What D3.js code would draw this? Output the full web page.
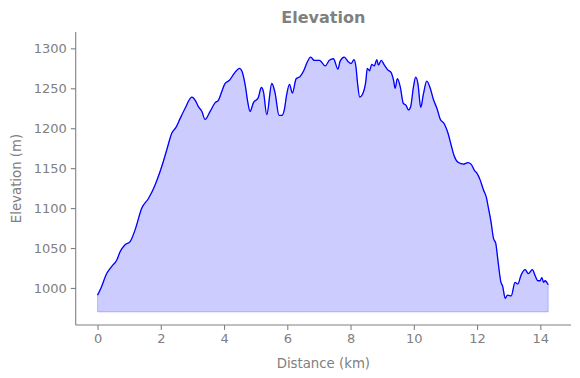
<!DOCTYPE html>
<html>
<head>
<meta charset="utf-8">
<script src="https://cdn.jsdelivr.net/npm/d3@7"></script>
<style>
  html, body { margin: 0; padding: 0; background: #fff; }
  svg { display: block; font-family: "DejaVu Sans", sans-serif; }
</style>
</head>
<body>
<svg id="chart" width="580" height="378"></svg>
<script>
// ---- data ----
const distKm = [0, 0.11, 0.29, 0.45, 0.61, 0.71, 0.87, 1.03, 1.19, 1.40, 1.61, 1.82, 2.03, 2.19, 2.35, 2.48, 2.61, 2.77, 2.98,
  3.09, 3.19, 3.30, 3.40, 3.56, 3.72, 3.82, 3.93, 4.03, 4.17, 4.33, 4.49, 4.56, 4.67, 4.75, 4.82, 4.93, 5.08, 5.18, 5.25,
  5.35, 5.51, 5.61, 5.74, 5.83, 5.91, 5.98, 6.07, 6.16, 6.28, 6.41, 6.53, 6.62, 6.74, 6.85, 7.02, 7.20, 7.33, 7.46, 7.60,
  7.67, 7.80, 7.93, 8.02, 8.11, 8.17, 8.22, 8.29, 8.37, 8.48, 8.53, 8.60, 8.67, 8.75, 8.83, 8.88, 8.97, 9.07, 9.18, 9.28,
  9.36, 9.41, 9.48, 9.57, 9.67, 9.75, 9.83, 9.90, 9.99, 10.06, 10.13, 10.22, 10.30, 10.41, 10.52, 10.62, 10.73, 10.83,
  10.97, 11.08, 11.18, 11.28, 11.41, 11.57, 11.71, 11.81, 11.92, 11.99, 12.10, 12.20, 12.29, 12.36, 12.44, 12.52, 12.59,
  12.67, 12.75, 12.81, 12.89, 12.96, 13.08, 13.20, 13.29, 13.39, 13.52, 13.62, 13.75, 13.83, 13.92, 13.99, 14.05, 14.10,
  14.15, 14.25];
const elevM = [991, 1000, 1018, 1027, 1035, 1045, 1054, 1058, 1073, 1100, 1112, 1129, 1152, 1173, 1194, 1201, 1212, 1225, 1239,
  1235, 1227, 1221, 1211, 1221, 1232, 1235, 1246, 1256, 1260, 1269, 1275, 1272, 1254, 1233, 1221, 1232, 1238, 1251, 1245,
  1217, 1256, 1245, 1216, 1216, 1224, 1242, 1255, 1244, 1262, 1265, 1273, 1282, 1289, 1285, 1285, 1278, 1285, 1287, 1274,
  1284, 1289, 1283, 1281, 1286, 1277, 1257, 1239, 1242, 1258, 1275, 1272, 1280, 1278, 1286, 1279, 1285, 1279, 1273, 1270,
  1260, 1250, 1262, 1252, 1231, 1229, 1223, 1227, 1252, 1264, 1256, 1226, 1242, 1259, 1250, 1236, 1225, 1212,
  1205, 1194, 1179, 1165, 1157, 1155, 1157, 1155, 1147, 1144, 1135, 1123, 1114, 1100, 1083, 1062, 1056,
  1031, 1008, 1002, 987, 991, 990, 1007, 1005, 1016, 1023, 1018, 1023, 1016, 1009, 1009, 1013, 1007,
  1009, 1004];
const fillBase = 970;
const xTicks = [0, 2, 4, 6, 8, 10, 12, 14];
const yTicks = [1000, 1050, 1100, 1150, 1200, 1250, 1300];
const xDomain = [-0.69, 14.97];
const yDomain = [953.6, 1320.5];
const titleText = "Elevation";
const xLabel = "Distance (km)";
const yLabel = "Elevation (m)";

// ---- layout ----
const L = 75.7, R = 571, T = 32, B = 325;
const gray = "#808080";
const svg = d3.select("#chart");

const x = d3.scaleLinear().domain(xDomain).range([L, R]);
const y = d3.scaleLinear().domain(yDomain).range([B, T]);

const pts = distKm.map((d, i) => ({ d, e: elevM[i] }));

const area = d3.area()
  .x(p => x(p.d))
  .y0(y(fillBase))
  .y1(p => y(p.e))
  .curve(d3.curveMonotoneX);

const line = d3.line()
  .x(p => x(p.d))
  .y(p => y(p.e))
  .curve(d3.curveMonotoneX);

svg.append("path")
  .datum(pts)
  .attr("d", area)
  .attr("fill", "rgba(0,0,255,0.2)")
  .attr("stroke", "rgba(0,0,255,0.2)")
  .attr("stroke-width", 1);

svg.append("path")
  .datum(pts)
  .attr("d", line)
  .attr("fill", "none")
  .attr("stroke", "#0000ff")
  .attr("stroke-width", 1.3)
  .attr("stroke-linejoin", "round");

// axes
const xAxis = svg.append("g")
  .attr("transform", `translate(0,${B})`)
  .call(d3.axisBottom(x).tickValues(xTicks).tickSize(4.9).tickPadding(4).tickFormat(d3.format("d")));
const yAxis = svg.append("g")
  .attr("transform", `translate(${L},0)`)
  .call(d3.axisLeft(y).tickValues(yTicks).tickSize(4.9).tickPadding(4).tickFormat(d3.format("d")));

[xAxis, yAxis].forEach(g => {
  g.select(".domain").attr("stroke", gray).attr("stroke-width", 1.1);
  g.selectAll(".tick line").attr("stroke", gray).attr("stroke-width", 1.1);
  g.selectAll(".tick text").attr("fill", gray).attr("font-size", "13px")
    .attr("font-family", "DejaVu Sans, sans-serif");
});
// remove end-caps of domain lines (matplotlib spines)
xAxis.select(".domain").attr("d", `M${L},0H${R}`);
yAxis.select(".domain").attr("d", `M0,${T}V${B}`);

// labels
svg.append("text")
  .attr("x", (L + R) / 2).attr("y", 368)
  .attr("text-anchor", "middle")
  .attr("fill", gray).attr("font-size", "13.3px")
  .text(xLabel);

svg.append("text")
  .attr("transform", `translate(21,${(T + B) / 2}) rotate(-90)`)
  .attr("text-anchor", "middle")
  .attr("fill", gray).attr("font-size", "13.3px")
  .text(yLabel);

svg.append("text")
  .attr("x", (L + R) / 2).attr("y", 23)
  .attr("text-anchor", "middle")
  .attr("fill", gray).attr("font-size", "16px").attr("font-weight", "bold")
  .text(titleText);
</script>
</body>
</html>
